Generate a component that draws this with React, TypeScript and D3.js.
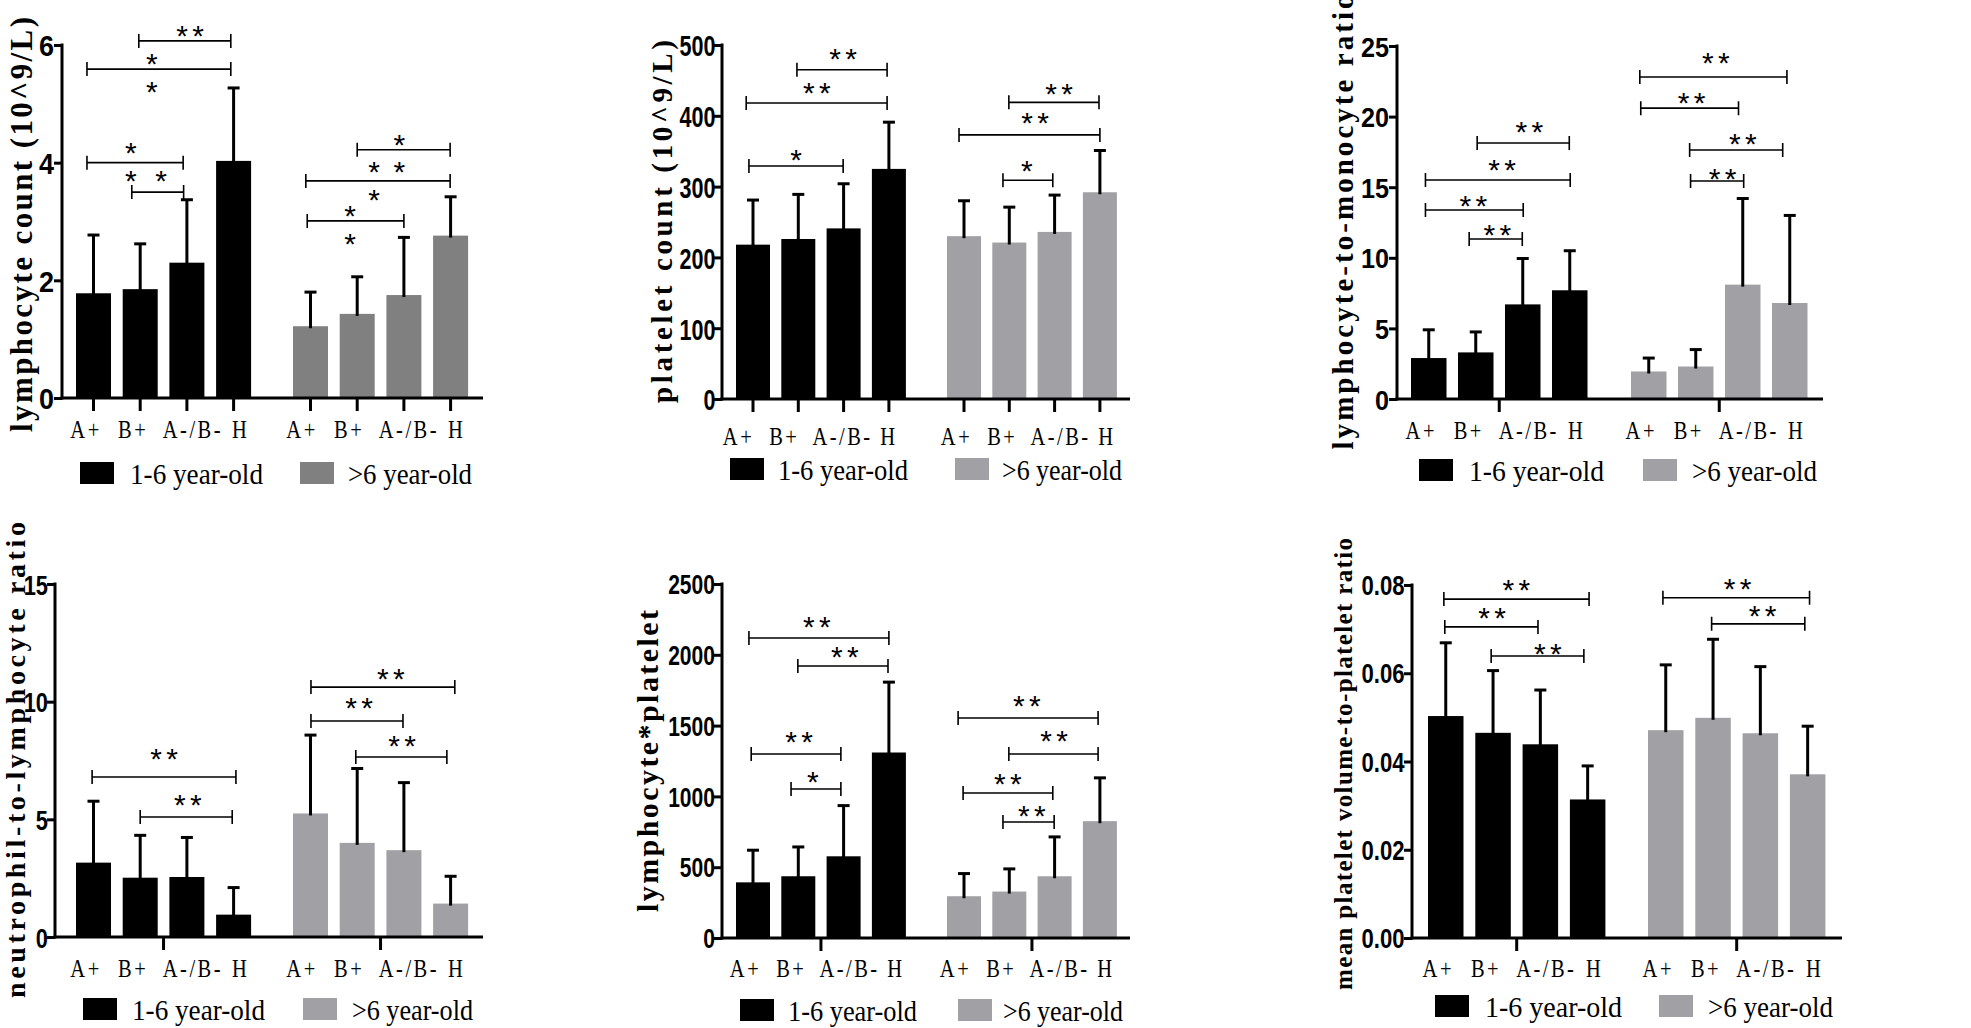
import React, { useEffect, useRef } from "react";
import * as d3 from "d3";

const categories = ["A+", "B+", "A-/B-", "H"];
const ageGroups = ["1-6 year-old", ">6 year-old"];

// lymphocyte count (10^9/L)
const lymphYoung = [1.78, 1.85, 2.3, 4.03];
const lymphYoungSd = [0.99, 0.77, 1.07, 1.24];
const lymphOld = [1.22, 1.43, 1.75, 2.76];
const lymphOldSd = [0.58, 0.63, 0.98, 0.66];
const lymphTicks = [0, 2, 4, 6];
// [group, from, to, level]
const lymphBrackets = [[0, 0.97, 2.94, 6.07], [0, -0.14, 2.94, 5.59], [0, -0.14, 1.92, 4.0], [0, 0.82, 1.93, 3.5],
  [1, 1.0, 2.99, 4.22], [1, -0.1, 2.99, 3.69], [1, -0.07, 2.0, 3.01]];
// [group, position, level, count]
const lymphStars = [[0, 2.07, 6.27, 2], [0, 1.25, 5.8, 1], [0, 1.25, 5.32, 1], [0, 0.8, 4.28, 1], [0, 0.8, 3.81, 1], [0, 1.45, 3.81, 1],
  [1, 1.9, 4.42, 1], [1, 1.36, 3.96, 1], [1, 1.9, 3.96, 1], [1, 1.36, 3.48, 1], [1, 0.85, 3.21, 1], [1, 0.85, 2.74, 1]];

// platelet count (10^9/L)
const pltYoung = [218, 226, 241, 325];
const pltYoungSd = [63, 63, 63, 66];
const pltOld = [230, 221, 236, 292];
const pltOldSd = [50, 50, 52, 59];
const pltTicks = [0, 100, 200, 300, 400, 500];
const pltBrackets = [[0, 0.97, 2.96, 465], [0, -0.15, 2.96, 418], [0, -0.09, 1.99, 329],
  [1, 0.99, 2.98, 419], [1, -0.11, 3.0, 373], [1, 0.86, 1.96, 309]];
const pltStars = [[0, 1.99, 490, 2], [0, 1.41, 442, 2], [0, 0.95, 347, 1],
  [1, 2.1, 441, 2], [1, 1.57, 400, 2], [1, 1.39, 332, 1]];

// lymphocyte-to-monocyte ratio
const lmrYoung = [2.9, 3.3, 6.7, 7.7];
const lmrYoungSd = [2.0, 1.45, 3.25, 2.8];
const lmrOld = [1.95, 2.3, 8.1, 6.8];
const lmrOldSd = [0.95, 1.2, 6.1, 6.2];
const lmrTicks = [0, 5, 10, 15, 20, 25];
const lmrBrackets = [[0, 1.03, 2.99, 18.13], [0, -0.07, 3.01, 15.51], [0, -0.07, 2.01, 13.39], [0, 0.86, 1.99, 11.33],
  [1, -0.19, 2.94, 22.8], [1, -0.17, 1.91, 20.6], [1, 0.87, 2.85, 17.63], [1, 0.89, 2.02, 15.44]];
const lmrStars = [[0, 2.14, 19.4, 2], [0, 1.56, 16.71, 2], [0, 0.95, 14.16, 2], [0, 1.46, 12.11, 2],
  [1, 1.43, 24.3, 2], [1, 0.91, 21.46, 2], [1, 2.0, 18.56, 2], [1, 1.57, 16.08, 2]];

// neutrophil-to-lymphocyte ratio
const nlrYoung = [3.16, 2.52, 2.55, 0.95];
const nlrYoungSd = [2.61, 1.8, 1.68, 1.15];
const nlrOld = [5.25, 4.0, 3.69, 1.42];
const nlrOldSd = [3.33, 3.16, 2.87, 1.16];
const nlrTicks = [0, 5, 10, 15];
const nlrBrackets = [[0, -0.03, 3.05, 6.8], [0, 1.0, 2.97, 5.1],
  [1, 0.01, 3.09, 10.62], [1, 0.01, 1.98, 9.18], [1, 0.97, 2.92, 7.65]];
const nlrStars = [[0, 1.51, 7.86, 2], [0, 2.02, 5.91, 2],
  [1, 1.72, 11.26, 2], [1, 1.04, 10.03, 2], [1, 1.96, 8.41, 2]];

// lymphocyte*platelet
const lpYoung = [393, 436, 577, 1310];
const lpYoungSd = [227, 207, 358, 497];
const lpOld = [295, 328, 436, 825];
const lpOldSd = [160, 160, 278, 306];
const lpTicks = [0, 500, 1000, 1500, 2000, 2500];
const lpBrackets = [[0, -0.09, 3.0, 2119], [0, 0.99, 2.98, 1921], [0, -0.04, 1.94, 1299], [0, 0.84, 1.94, 1052],
  [1, -0.13, 2.96, 1554], [1, 0.99, 2.96, 1299], [1, -0.02, 1.96, 1024], [1, 0.86, 1.99, 819]];
const lpStars = [[0, 1.41, 2246, 2], [0, 2.03, 2034, 2], [0, 1.02, 1434, 2], [0, 1.32, 1151, 1],
  [1, 1.39, 1688, 2], [1, 1.99, 1441, 2], [1, 0.97, 1137, 2], [1, 1.5, 911, 2]];

// mean platelet volume-to-platelet ratio
const mpvYoung = [0.0503, 0.0465, 0.0439, 0.0314];
const mpvYoungSd = [0.0166, 0.0141, 0.0123, 0.0076];
const mpvOld = [0.0471, 0.0499, 0.0464, 0.0371];
const mpvOldSd = [0.0148, 0.0178, 0.0151, 0.0109];
const mpvTicks = [0, 0.02, 0.04, 0.06, 0.08];
const mpvBrackets = [[0, -0.04, 3.03, 0.0768], [0, -0.02, 1.95, 0.0705], [0, 0.96, 2.92, 0.0639],
  [1, -0.06, 3.04, 0.0771], [1, 0.97, 2.94, 0.0712]];
const mpvStars = [[0, 1.49, 0.0805, 2], [0, 0.98, 0.0741, 2], [0, 2.16, 0.066, 2],
  [1, 1.52, 0.0807, 2], [1, 2.05, 0.0746, 2]];

const panels = [
  {
    title: "lymphocyte count (10^9/L)", means: [lymphYoung, lymphOld], sds: [lymphYoungSd, lymphOldSd],
    ticks: lymphTicks, fmt: d3.format("d"), brackets: lymphBrackets, stars: lymphStars,
    ax: 62, axEnd: 483, y0: 398, yTop: 45, left: [76, 293], step: 46.7, bw: 35, tickEach: true,
    tickFont: 30, tickSx: 0.9, labelY: 438, labelShift: [0, -1], legendY: 462, legendBox: [80, 300],
    legendText: [[130, 133], [348, 124]], titleX: 32, titleY: 224.5, titleLen: 415, titleFont: 31, grey: "#808080",
  },
  {
    title: "platelet count (10^9/L)", means: [pltYoung, pltOld], sds: [pltYoungSd, pltOldSd],
    ticks: pltTicks, fmt: d3.format("d"), brackets: pltBrackets, stars: pltStars,
    ax: 722, axEnd: 1130, y0: 399, yTop: 45, left: [736, 947], step: 45.3, bw: 34, tickEach: true,
    tickFont: 30, tickSx: 0.72, labelY: 445, labelShift: [-7, 0], legendY: 458, legendBox: [730, 955],
    legendText: [[778, 130], [1002, 120]], titleX: 672, titleY: 221.5, titleLen: 363, titleFont: 29, grey: "#a1a1a5",
  },
  {
    title: "lymphocyte-to-monocyte ratio", means: [lmrYoung, lmrOld], sds: [lmrYoungSd, lmrOldSd],
    ticks: lmrTicks, fmt: d3.format("d"), brackets: lmrBrackets, stars: lmrStars,
    ax: 1397, axEnd: 1823, y0: 399, yTop: 46, left: [1411, 1631], step: 47, bw: 35.5, tickEach: false,
    tickFont: 28, tickSx: 0.9, labelY: 439, labelShift: [0, 0], legendY: 459, legendBox: [1419, 1643],
    legendText: [[1469, 135], [1692, 125]], titleX: 1353, titleY: 222, titleLen: 455, titleFont: 29, grey: "#a1a1a5",
  },
  {
    title: "neutrophil-to-lymphocyte ratio", means: [nlrYoung, nlrOld], sds: [nlrYoungSd, nlrOldSd],
    ticks: nlrTicks, fmt: d3.format("d"), brackets: nlrBrackets, stars: nlrStars,
    ax: 55, axEnd: 483, y0: 937, yTop: 584, left: [76, 293], step: 46.7, bw: 35, tickEach: false,
    tickFont: 28, tickSx: 0.78, labelY: 977, labelShift: [0, -1], legendY: 998, legendBox: [83, 303],
    legendText: [[132, 133], [352, 121]], titleX: 25, titleY: 760, titleLen: 476, titleFont: 28, grey: "#a1a1a5",
  },
  {
    title: "lymphocyte*platelet", means: [lpYoung, lpOld], sds: [lpYoungSd, lpOldSd],
    ticks: lpTicks, fmt: d3.format("d"), brackets: lpBrackets, stars: lpStars,
    ax: 722, axEnd: 1130, y0: 938, yTop: 584, left: [736, 947], step: 45.3, bw: 34, tickEach: false,
    tickFont: 27, tickSx: 0.78, labelY: 977, labelShift: [0, -1], legendY: 999, legendBox: [740, 958],
    legendText: [[788, 129], [1003, 120]], titleX: 658, titleY: 761, titleLen: 302, titleFont: 30, grey: "#a1a1a5",
  },
  {
    title: "mean platelet volume-to-platelet ratio", means: [mpvYoung, mpvOld], sds: [mpvYoungSd, mpvOldSd],
    ticks: mpvTicks, fmt: d3.format(".2f"), brackets: mpvBrackets, stars: mpvStars,
    ax: 1412, axEnd: 1842, y0: 938, yTop: 585, left: [1428, 1648], step: 47.3, bw: 35.5, tickEach: false,
    tickFont: 27, tickSx: 0.82, labelY: 977, labelShift: [0, 0], legendY: 995, legendBox: [1435, 1659],
    legendText: [[1485, 137], [1708, 125]], titleX: 1352, titleY: 764, titleLen: 452, titleFont: 25, grey: "#a1a1a5",
  },
];

const serif = "'Liberation Serif', 'Times New Roman', serif";
const sans = "'Liberation Sans', Arial, sans-serif";
const labelNudge = [-7.5, -7, 6, 7];

function drawPanel(svg, p) {
  const g = svg.append("g");
  const y = d3.scaleLinear().domain([0, p.ticks[p.ticks.length - 1]]).range([p.y0, p.yTop]);
  const bands = p.left.map((l) =>
    d3.scaleBand().domain(categories).range([l, l + 3 * p.step + p.bw]).paddingInner(1 - p.bw / p.step).paddingOuter(0)
  );
  const pos = bands.map((b) =>
    d3.scaleLinear().domain([0, 3]).range([b(categories[0]) + b.bandwidth() / 2, b(categories[3]) + b.bandwidth() / 2])
  );
  const colors = ["#000000", p.grey];

  // bars + error bars
  [0, 1].forEach((gi) => {
    const rows = categories.map((c, i) => ({ c, i, m: p.means[gi][i], sd: p.sds[gi][i] }));
    g.selectAll(null).data(rows).enter().append("rect")
      .attr("x", (d) => bands[gi](d.c))
      .attr("width", bands[gi].bandwidth())
      .attr("y", (d) => y(d.m))
      .attr("height", (d) => y(0) - y(d.m))
      .attr("fill", colors[gi]);
    g.selectAll(null).data(rows).enter().append("line")
      .attr("x1", (d) => pos[gi](d.i)).attr("x2", (d) => pos[gi](d.i))
      .attr("y1", (d) => y(d.m) + 2).attr("y2", (d) => y(d.m + d.sd))
      .attr("stroke", "#000").attr("stroke-width", 3);
    g.selectAll(null).data(rows).enter().append("line")
      .attr("x1", (d) => pos[gi](d.i) - 6).attr("x2", (d) => pos[gi](d.i) + 6)
      .attr("y1", (d) => y(d.m + d.sd)).attr("y2", (d) => y(d.m + d.sd))
      .attr("stroke", "#000").attr("stroke-width", 3);
  });

  // y axis
  const yAxis = g.append("g")
    .attr("transform", `translate(${p.ax},0)`)
    .call(d3.axisLeft(y).tickValues(p.ticks).tickFormat(p.fmt).tickSize(8).tickSizeOuter(0).tickPadding(1));
  yAxis.select(".domain").attr("stroke-width", 3).attr("d", `M0,${p.y0 + 1.5}V${p.yTop - 1.5}`);
  yAxis.selectAll(".tick line").attr("stroke-width", 3);
  yAxis.selectAll(".tick text")
    .style("font-family", sans).style("font-weight", "bold").style("font-size", `${p.tickFont}px`)
    .attr("fill", "#000").attr("dy", "0.36em")
    .attr("transform", `scale(${p.tickSx},1)`);

  // x axis line and ticks
  g.append("line").attr("x1", p.ax - 1.5).attr("x2", p.axEnd).attr("y1", y(0)).attr("y2", y(0))
    .attr("stroke", "#000").attr("stroke-width", 3);
  const xt = [];
  [0, 1].forEach((gi) => {
    if (p.tickEach) categories.forEach((c, i) => xt.push(pos[gi](i)));
    else xt.push(pos[gi](1.5));
  });
  g.selectAll(null).data(xt).enter().append("line")
    .attr("x1", (d) => d).attr("x2", (d) => d).attr("y1", y(0)).attr("y2", y(0) + 13)
    .attr("stroke", "#000").attr("stroke-width", 3);

  // category labels
  [0, 1].forEach((gi) => {
    g.selectAll(null).data(categories).enter().append("text")
      .attr("transform", (d, i) => `translate(${pos[gi](i) + labelNudge[i] + p.labelShift[gi]},${p.labelY}) scale(0.82,1)`)
      .attr("text-anchor", "middle").attr("font-family", serif).attr("font-size", 25)
      .attr("letter-spacing", 3).attr("fill", "#000")
      .text((d) => d);
  });

  // significance brackets
  g.selectAll(null).data(p.brackets).enter().append("path")
    .attr("d", (b) => {
      const x1 = pos[b[0]](b[1]);
      const x2 = pos[b[0]](b[2]);
      const yy = y(b[3]);
      return `M${x1},${yy - 7}V${yy + 7}M${x1},${yy}H${x2}M${x2},${yy - 7}V${yy + 7}`;
    })
    .attr("fill", "none").attr("stroke", "#000").attr("stroke-width", 1.6);
  const starPts = [];
  p.stars.forEach((s) => {
    const cx = pos[s[0]](s[1]);
    const offs = s[3] === 2 ? [-8, 8] : [0];
    offs.forEach((o) => starPts.push([cx + o, y(s[2])]));
  });
  g.selectAll(null).data(starPts).enter().append("text")
    .attr("x", (d) => d[0]).attr("y", (d) => d[1] + 17)
    .attr("text-anchor", "middle").attr("font-family", sans).attr("font-size", 30).attr("fill", "#000")
    .text("*");

  // y title
  g.append("text")
    .attr("transform", `translate(${p.titleX},${p.titleY}) rotate(-90)`)
    .attr("text-anchor", "middle")
    .style("font-family", serif).style("font-weight", "bold").style("font-size", `${p.titleFont}px`)
    .attr("fill", "#000")
    .attr("textLength", p.titleLen).attr("lengthAdjust", "spacing")
    .text(p.title);

  // legend
  [0, 1].forEach((gi) => {
    g.append("rect").attr("x", p.legendBox[gi]).attr("y", p.legendY).attr("width", 34).attr("height", 22)
      .attr("fill", colors[gi]);
    g.append("text")
      .attr("x", p.legendText[gi][0]).attr("y", p.legendY + 22)
      .attr("font-family", serif).attr("font-size", 29).attr("fill", "#000")
      .attr("textLength", p.legendText[gi][1]).attr("lengthAdjust", "spacingAndGlyphs")
      .text(ageGroups[gi]);
  });
}

export default function App() {
  const ref = useRef(null);

  useEffect(() => {
    const svg = d3.select(ref.current);
    svg.selectAll("*").remove();
    svg.append("rect").attr("width", 1971).attr("height", 1028).attr("fill", "#fff");
    panels.forEach((p) => drawPanel(svg, p));
  }, []);

  return (
    <svg
      ref={ref}
      width={1971}
      height={1028}
      style={{ position: "absolute", left: 0, top: 0, display: "block" }}
    />
  );
}
